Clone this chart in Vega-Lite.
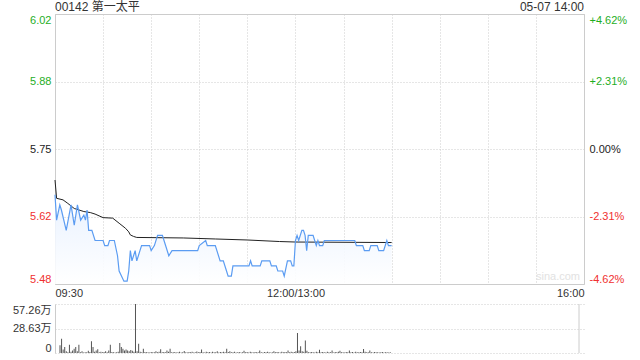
{
  "$schema": "https://vega.github.io/schema/vega-lite/v6.json",
  "padding": {"left": 12, "top": 0, "right": 5, "bottom": 5},
  "spacing": 4,
  "config": {
    "font": "Liberation Sans, Noto Sans CJK SC",
    "view": {"stroke": null},
    "axis": {"labelFont": "Liberation Sans, Noto Sans CJK SC", "labelFontSize": 11, "labelColor": "#333"}
  },
  "datasets": {
    "price": [
      {"m":0,"p":5.66},{"m":1,"p":5.61},{"m":3,"p":5.64},{"m":4,"p":5.63},{"m":7,"p":5.59},{"m":10,"p":5.64},{"m":12,"p":5.60},{"m":14,"p":5.64},{"m":16,"p":5.61},{"m":18,"p":5.62},{"m":19,"p":5.61},{"m":20,"p":5.63},{"m":21,"p":5.59},{"m":23,"p":5.59},{"m":25,"p":5.57},{"m":30,"p":5.57},{"m":31,"p":5.56},{"m":33,"p":5.56},{"m":34,"p":5.57},{"m":37,"p":5.57},{"m":39,"p":5.54},{"m":40,"p":5.51},{"m":43,"p":5.49},{"m":45,"p":5.49},{"m":46,"p":5.51},{"m":47,"p":5.55},{"m":48,"p":5.53},{"m":50,"p":5.55},{"m":51,"p":5.53},{"m":53,"p":5.55},{"m":54,"p":5.56},{"m":59,"p":5.56},{"m":60,"p":5.55},{"m":62,"p":5.56},{"m":64,"p":5.58},{"m":67,"p":5.58},{"m":68,"p":5.57},{"m":71,"p":5.54},{"m":73,"p":5.55},{"m":89,"p":5.55},{"m":90,"p":5.56},{"m":94,"p":5.57},{"m":95,"p":5.56},{"m":100,"p":5.56},{"m":103,"p":5.53},{"m":105,"p":5.53},{"m":107,"p":5.51},{"m":108,"p":5.50},{"m":110,"p":5.50},{"m":111,"p":5.52},{"m":121,"p":5.52},{"m":122,"p":5.53},{"m":123,"p":5.52},{"m":128,"p":5.52},{"m":129,"p":5.53},{"m":134,"p":5.53},{"m":135,"p":5.52},{"m":138,"p":5.52},{"m":139,"p":5.51},{"m":142,"p":5.51},{"m":143,"p":5.50},{"m":145,"p":5.53},{"m":147,"p":5.53},{"m":148,"p":5.52},{"m":149,"p":5.52},{"m":150,"p":5.57},{"m":151,"p":5.58},{"m":152,"p":5.57},{"m":154,"p":5.59},{"m":155,"p":5.59},{"m":156,"p":5.58},{"m":157,"p":5.55},{"m":158,"p":5.58},{"m":161,"p":5.58},{"m":162,"p":5.57},{"m":163,"p":5.56},{"m":164,"p":5.57},{"m":165,"p":5.56},{"m":167,"p":5.56},{"m":168,"p":5.57},{"m":187,"p":5.57},{"m":188,"p":5.56},{"m":192,"p":5.56},{"m":193,"p":5.55},{"m":196,"p":5.55},{"m":197,"p":5.56},{"m":201,"p":5.56},{"m":202,"p":5.55},{"m":205,"p":5.55},{"m":207,"p":5.57},{"m":208,"p":5.56},{"m":210,"p":5.56}
    ],
    "avg": [
      {"m":0,"a":5.689},{"m":1,"a":5.653},{"m":5,"a":5.650},{"m":8,"a":5.643},{"m":12,"a":5.633},{"m":18,"a":5.627},{"m":22,"a":5.625},{"m":25,"a":5.622},{"m":30,"a":5.615},{"m":36,"a":5.614},{"m":40,"a":5.604},{"m":44,"a":5.594},{"m":46,"a":5.587},{"m":47,"a":5.581},{"m":49,"a":5.578},{"m":51,"a":5.576},{"m":80,"a":5.575},{"m":100,"a":5.573},{"m":120,"a":5.571},{"m":140,"a":5.568},{"m":150,"a":5.567},{"m":210,"a":5.566}
    ],
    "vol": [
      {"m":0,"v":90000},{"m":1,"v":167000},{"m":2,"v":40000},{"m":3,"v":70000},{"m":4,"v":20000},{"m":5,"v":10000},{"m":6,"v":97000},{"m":7,"v":15000},{"m":8,"v":30000},{"m":9,"v":50000},{"m":10,"v":70000},{"m":11,"v":20000},{"m":12,"v":97000},{"m":13,"v":10000},{"m":14,"v":20000},{"m":15,"v":5000},{"m":16,"v":10000},{"m":17,"v":8000},{"m":18,"v":25000},{"m":19,"v":12000},{"m":20,"v":136000},{"m":21,"v":70000},{"m":22,"v":15000},{"m":23,"v":30000},{"m":24,"v":43000},{"m":25,"v":10000},{"m":26,"v":15000},{"m":27,"v":8000},{"m":28,"v":12000},{"m":29,"v":20000},{"m":30,"v":10000},{"m":31,"v":30000},{"m":32,"v":97000},{"m":33,"v":12000},{"m":34,"v":10000},{"m":35,"v":5000},{"m":36,"v":8000},{"m":37,"v":15000},{"m":38,"v":117000},{"m":39,"v":70000},{"m":40,"v":50000},{"m":41,"v":30000},{"m":42,"v":40000},{"m":43,"v":30000},{"m":44,"v":20000},{"m":45,"v":35000},{"m":46,"v":25000},{"m":47,"v":15000},{"m":48,"v":572600},{"m":49,"v":20000},{"m":50,"v":109000},{"m":51,"v":15000},{"m":52,"v":10000},{"m":53,"v":50000},{"m":54,"v":12000},{"m":55,"v":8000},{"m":56,"v":10000},{"m":57,"v":6000},{"m":58,"v":12000},{"m":59,"v":10000},{"m":60,"v":8000},{"m":61,"v":20000},{"m":62,"v":10000},{"m":63,"v":15000},{"m":64,"v":43000},{"m":65,"v":8000},{"m":66,"v":12000},{"m":67,"v":10000},{"m":68,"v":30000},{"m":69,"v":15000},{"m":70,"v":50000},{"m":71,"v":10000},{"m":72,"v":8000},{"m":73,"v":12000},{"m":74,"v":6000},{"m":75,"v":9000},{"m":76,"v":14000},{"m":77,"v":7000},{"m":78,"v":10000},{"m":79,"v":22000},{"m":80,"v":8000},{"m":81,"v":6000},{"m":82,"v":12000},{"m":83,"v":9000},{"m":84,"v":15000},{"m":85,"v":7000},{"m":86,"v":10000},{"m":87,"v":18000},{"m":88,"v":8000},{"m":89,"v":12000},{"m":90,"v":40000},{"m":91,"v":10000},{"m":92,"v":7000},{"m":93,"v":14000},{"m":94,"v":9000},{"m":95,"v":11000},{"m":96,"v":6000},{"m":97,"v":15000},{"m":98,"v":8000},{"m":99,"v":10000},{"m":100,"v":20000},{"m":101,"v":7000},{"m":102,"v":12000},{"m":103,"v":9000},{"m":104,"v":14000},{"m":105,"v":8000},{"m":106,"v":50000},{"m":107,"v":12000},{"m":108,"v":20000},{"m":109,"v":8000},{"m":110,"v":10000},{"m":111,"v":15000},{"m":112,"v":7000},{"m":113,"v":9000},{"m":114,"v":12000},{"m":115,"v":6000},{"m":116,"v":10000},{"m":117,"v":25000},{"m":118,"v":8000},{"m":119,"v":11000},{"m":120,"v":7000},{"m":121,"v":14000},{"m":122,"v":9000},{"m":123,"v":6000},{"m":124,"v":12000},{"m":125,"v":8000},{"m":126,"v":10000},{"m":127,"v":30000},{"m":128,"v":9000},{"m":129,"v":7000},{"m":130,"v":12000},{"m":131,"v":8000},{"m":132,"v":14000},{"m":133,"v":10000},{"m":134,"v":6000},{"m":135,"v":9000},{"m":136,"v":20000},{"m":137,"v":8000},{"m":138,"v":12000},{"m":139,"v":10000},{"m":140,"v":7000},{"m":141,"v":15000},{"m":142,"v":9000},{"m":143,"v":12000},{"m":144,"v":8000},{"m":145,"v":30000},{"m":146,"v":10000},{"m":147,"v":14000},{"m":148,"v":9000},{"m":149,"v":12000},{"m":150,"v":20000},{"m":151,"v":233000},{"m":152,"v":30000},{"m":153,"v":80000},{"m":154,"v":20000},{"m":155,"v":15000},{"m":156,"v":146000},{"m":157,"v":25000},{"m":158,"v":10000},{"m":159,"v":8000},{"m":160,"v":12000},{"m":161,"v":9000},{"m":162,"v":7000},{"m":163,"v":14000},{"m":164,"v":10000},{"m":165,"v":39000},{"m":166,"v":8000},{"m":167,"v":12000},{"m":168,"v":9000},{"m":169,"v":6000},{"m":170,"v":15000},{"m":171,"v":10000},{"m":172,"v":8000},{"m":173,"v":30000},{"m":174,"v":7000},{"m":175,"v":11000},{"m":176,"v":9000},{"m":177,"v":14000},{"m":178,"v":25000},{"m":179,"v":8000},{"m":180,"v":10000},{"m":181,"v":6000},{"m":182,"v":12000},{"m":183,"v":9000},{"m":184,"v":30000},{"m":185,"v":8000},{"m":186,"v":11000},{"m":187,"v":7000},{"m":188,"v":14000},{"m":189,"v":10000},{"m":190,"v":8000},{"m":191,"v":12000},{"m":192,"v":9000},{"m":193,"v":47000},{"m":194,"v":15000},{"m":195,"v":8000},{"m":196,"v":10000},{"m":197,"v":28000},{"m":198,"v":9000},{"m":199,"v":6000},{"m":200,"v":12000},{"m":201,"v":8000},{"m":202,"v":10000},{"m":203,"v":7000},{"m":204,"v":9000},{"m":205,"v":12000},{"m":206,"v":6000},{"m":207,"v":10000},{"m":208,"v":8000},{"m":209,"v":7000},{"m":210,"v":9000}
    ]
  },
  "vconcat": [
    {
      "width": 529,
      "height": 270,
      "view": {"stroke": "#cccccc", "strokeWidth": 1},
      "encoding": {
        "x": {
          "field": "m", "type": "quantitative",
          "scale": {"domain": [0, 330], "nice": false, "zero": false},
          "axis": {
            "title": null,
            "values": [0,30,60,90,120,150,180,210,240,270,300,330],
            "labelExpr": "datum.value == 0 ? '09:30' : datum.value == 150 ? '12:00/13:00' : datum.value == 330 ? '16:00' : ''",
            "labelFlush": true, "labelPadding": 3,
            "ticks": false, "domain": false,
            "grid": true, "gridColor": "#cccccc", "gridDash": [1, 2], "gridWidth": 1
          }
        }
      },
      "layer": [
        {
          "data": {"name": "price"},
          "mark": {"type": "area", "fill": {"x1": 0, "y1": 1, "x2": 0, "y2": 0, "gradient": "linear", "stops": [{"offset": 0, "color": "#ffffff"}, {"offset": 1, "color": "#e6f0ff"}]}, "opacity": 0.9},
          "encoding": {
            "y": {"field": "p", "type": "quantitative", "scale": {"domain": [5.4844, 6.0157], "nice": false, "zero": false}, "axis": null},
            "y2": {"datum": 5.4844}
          }
        },
        {
          "data": {"name": "avg"},
          "mark": {"type": "line", "color": "#222222", "strokeWidth": 1},
          "encoding": {
            "y": {"field": "a", "type": "quantitative", "scale": {"domain": [5.4844, 6.0157], "nice": false, "zero": false},
              "axis": {"orient": "right", "title": null, "values": [5.4844, 5.6172, 5.75, 5.8828, 6.0157],
                "labelExpr": "(datum.value > 5.7501 ? '+' : datum.value < 5.7499 ? '-' : '') + format(abs(datum.value / 5.75 - 1) * 100, '.2f') + '%'",
                "labelColor": {"expr": "datum.value > 5.7501 ? '#1fae1f' : datum.value < 5.7499 ? '#f03030' : '#222222'"},
                "labelFlush": true, "labelPadding": 5, "ticks": false, "domain": false, "grid": false}}
          }
        },
        {
          "data": {"name": "price"},
          "mark": {"type": "line", "color": "#5b9cf2", "strokeWidth": 1.2},
          "encoding": {
            "y": {"field": "p", "type": "quantitative", "scale": {"domain": [5.4844, 6.0157], "nice": false, "zero": false},
              "axis": {"orient": "left", "title": null, "values": [5.4844, 5.6172, 5.75, 5.8828, 6.0157],
                "labelExpr": "format(datum.value, '.2f')",
                "labelColor": {"expr": "datum.value > 5.7501 ? '#1fae1f' : datum.value < 5.7499 ? '#f03030' : '#222222'"},
                "labelFlush": true, "labelPadding": 4, "ticks": false, "domain": false,
                "grid": true, "gridColor": "#cccccc", "gridDash": [1, 2], "gridWidth": 1}}
          }
        },
        {
          "data": {"values": [{"m": 330, "p": 6.0157, "t": "05-07 14:00", "al": "right"}, {"m": 0, "p": 6.0157, "t": "00142 第一太平", "al": "left"}]},
          "mark": {"type": "text", "align": {"expr": "datum.al"}, "baseline": "bottom", "dy": 0, "fontSize": 12, "color": "#333", "font": "Liberation Sans, Noto Sans CJK SC"},
          "encoding": {
            "y": {"field": "p", "type": "quantitative", "scale": {"domain": [5.4844, 6.0157], "nice": false, "zero": false}, "axis": null},
            "text": {"field": "t"}
          }
        },
        {
          "data": {"values": [{"m": 330, "p": 5.4844, "t": "sina.com"}]},
          "mark": {"type": "text", "align": "right", "baseline": "bottom", "dx": -4, "dy": -2, "fontSize": 11, "color": "#e2e2e2", "font": "Liberation Sans"},
          "encoding": {
            "y": {"field": "p", "type": "quantitative", "scale": {"domain": [5.4844, 6.0157], "nice": false, "zero": false}, "axis": null},
            "text": {"field": "t"}
          }
        }
      ],
      "resolve": {"axis": {"y": "independent"}}
    },
    {
      "width": 529,
      "height": 49,
      "layer": [
        {
          "data": {"name": "vol"},
          "mark": {"type": "bar", "color": "#555555", "width": 1},
          "encoding": {
            "x": {"field": "m", "type": "quantitative", "scale": {"domain": [0, 330], "nice": false, "zero": false}, "axis": null},
            "y": {"field": "v", "type": "quantitative", "scale": {"domain": [0, 572600], "nice": false},
              "axis": {"title": null, "values": [0, 286300, 572600],
                "labelExpr": "datum.value == 0 ? '0' : format(datum.value / 10000, '.2f') + '万'",
                "labelFlush": true, "labelPadding": 4, "ticks": false,
                "domain": true, "domainColor": "#cccccc",
                "grid": true, "gridColor": "#cccccc", "gridDash": [1, 2], "gridWidth": 1}}
          }
        },
        {
          "data": {"values": [{"m": 330}]},
          "mark": {"type": "rule", "color": "#cccccc", "strokeWidth": 1},
          "encoding": {
            "x": {"field": "m", "type": "quantitative", "scale": {"domain": [0, 330], "nice": false, "zero": false}, "axis": null}
          }
        }
      ]
    }
  ]
}
